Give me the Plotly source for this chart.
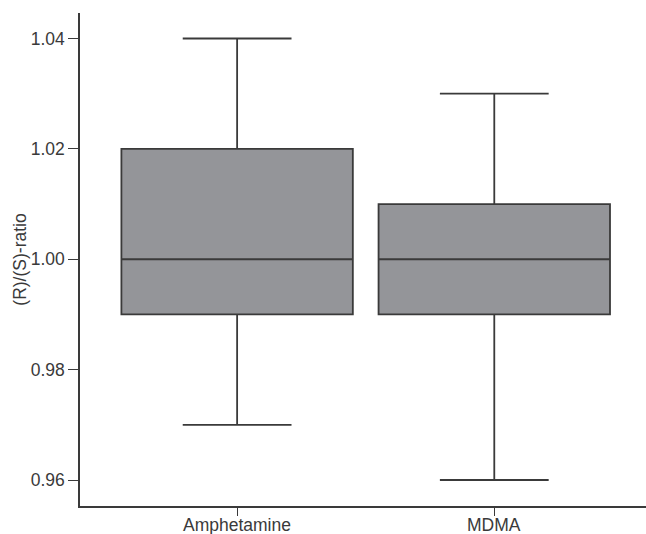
import plotly.graph_objects as go

# Summary statistics of the (R)/(S)-ratio per substance
substances = ["Amphetamine", "MDMA"]
lower_whisker = [0.97, 0.96]
q1_values = [0.99, 0.99]
medians = [1.00, 1.00]
q3_values = [1.02, 1.01]
upper_whisker = [1.04, 1.03]

y_ticks = [0.96, 0.98, 1.00, 1.02, 1.04]
y_tick_labels = ["0.96", "0.98", "1.00", "1.02", "1.04"]

fig = go.Figure()
fig.add_trace(go.Box(
    x=substances,
    q1=q1_values,
    median=medians,
    q3=q3_values,
    lowerfence=lower_whisker,
    upperfence=upper_whisker,
    fillcolor="#949599",
    line=dict(color="#3a3a3a", width=1.8),
    width=0.9,
    whiskerwidth=0.47,
    boxpoints=False,
    hoverinfo="skip",
    showlegend=False,
))

axis_font = dict(family="Liberation Sans, Arial, sans-serif", size=17.5, color="#3a3a3a")

# Category names sit tight under the tick marks, so place them as annotations
for name in substances:
    fig.add_annotation(
        x=name, xref="x",
        y=0, yref="paper",
        yanchor="top",
        yshift=-7,
        text=name,
        showarrow=False,
        font=axis_font,
    )

fig.update_layout(
    width=646,
    height=534,
    margin=dict(l=80, r=0, t=13, b=28),
    paper_bgcolor="white",
    plot_bgcolor="white",
    font=axis_font,
    xaxis=dict(
        range=[-0.611, 1.59],
        automargin=False,
        showline=True,
        linecolor="#3a3a3a",
        linewidth=1.5,
        ticks="outside",
        ticklen=8,
        tickcolor="#3a3a3a",
        tickwidth=1,
        showgrid=False,
        zeroline=False,
        showticklabels=False,
    ),
    yaxis=dict(
        range=[0.95529, 1.04462],
        automargin=False,
        tickvals=y_ticks,
        ticktext=y_tick_labels,
        showline=True,
        linecolor="#3a3a3a",
        linewidth=1.5,
        ticks="outside",
        ticklen=10,
        tickcolor="#3a3a3a",
        tickwidth=1,
        showgrid=False,
        zeroline=False,
        tickfont=axis_font,
        title=dict(text="(R)/(S)-ratio", font=axis_font, standoff=0),
    ),
)

fig.write_html("out.html")
